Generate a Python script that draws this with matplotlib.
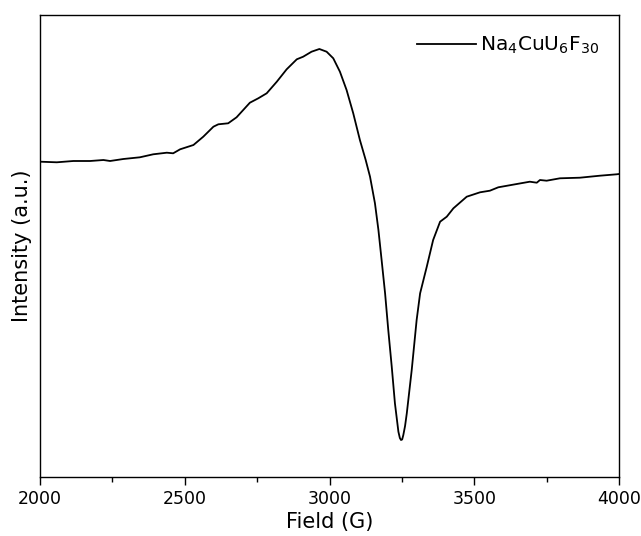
import matplotlib
matplotlib.use("Agg")
import matplotlib.pyplot as plt
from matplotlib.ticker import MultipleLocator

# EPR spectrum of Na4CuU6F30 (arbitrary intensity units)
field = [2000, 2058, 2115, 2173, 2219, 2242, 2288, 2345, 2391, 2438, 2460, 2484,
         2530, 2564, 2599, 2616, 2650, 2679, 2725, 2754, 2783, 2818, 2852, 2887,
         2909, 2938, 2965, 2990, 3013, 3036, 3059, 3082, 3105, 3125, 3140, 3157,
         3169, 3180, 3192, 3203, 3215, 3226, 3238, 3243, 3247, 3251, 3255, 3261,
         3267, 3284, 3301, 3313, 3336, 3358, 3382, 3405, 3428, 3474, 3520, 3554,
         3583, 3647, 3692, 3716, 3727, 3750, 3796, 3865, 3934, 3992, 4000]
intensity = [315.3, 314.7, 316, 316, 317, 316, 318, 319.7, 322.7, 324.3, 323.7, 327.7,
             332, 340.3, 350.3, 352.7, 353.7, 359.7, 374.3, 378.7, 383.7, 395.3, 407.7, 417.7,
             420.3, 425.3, 428, 425.3, 418.7, 405.3, 387, 363.7, 337, 317, 300.3, 273.7,
             247, 217, 183.7, 147, 110.3, 73.7, 45.3, 39, 37, 37.5, 42, 51,
             63.7, 107, 157, 183.7, 210.3, 237, 255.3, 260.3, 268.7, 280.3, 284.7, 286.3,
             289.7, 293, 295.3, 294.3, 297, 296.3, 298.7, 299.3, 301.3, 302.7, 303]

legend_label = r'Na$_4$CuU$_6$F$_{30}$'

plt.rcParams['font.family'] = ['DejaVu Sans']

fig = plt.figure(figsize=(6.41, 5.36), dpi=100)
ax = fig.add_axes([40/641, 1 - 477/536, (619 - 40)/641, (477 - 15)/536])

ax.plot(field, intensity, color='black', linewidth=1.3, label=legend_label,
        solid_joinstyle='round')

ax.set_xlim(2000, 4000)
ax.set_ylim(0, 462)
ax.xaxis.set_major_locator(MultipleLocator(500))
ax.xaxis.set_minor_locator(MultipleLocator(250))
ax.tick_params(axis='x', which='major', direction='out', length=6, width=1,
               labelsize=12.5, pad=3)
ax.tick_params(axis='x', which='minor', direction='out', length=3.5, width=1)
ax.set_yticks([])
for s in ax.spines.values():
    s.set_linewidth(1.0)

ax.set_xlabel('Field (G)', fontsize=15, labelpad=3)
ax.set_ylabel('Intensity (a.u.)', fontsize=15, labelpad=6)

ax.legend(loc='upper right', frameon=False, fontsize=14.5, handlelength=2.9,
          handletextpad=0.2, borderaxespad=0.6)

fig.savefig('out.png', dpi=100)
